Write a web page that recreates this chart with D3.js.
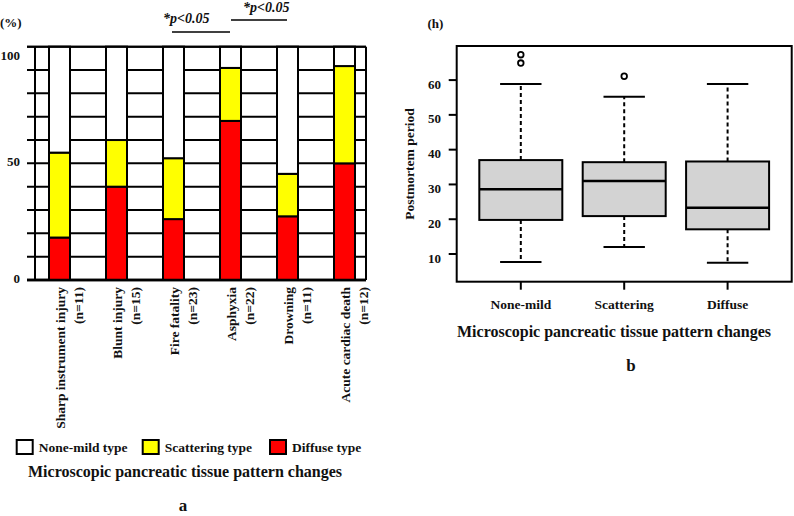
<!DOCTYPE html>
<html><head><meta charset="utf-8">
<script src="https://cdn.jsdelivr.net/npm/d3@7"></script>
<style>
html,body{margin:0;padding:0;background:#fff;}
text{font-family:"Liberation Serif","Times New Roman",serif;font-weight:bold;fill:#111;}
</style></head>
<body>
<svg id="chart" width="794" height="516"></svg>
<script>
// ---------- Panel a data ----------
const categories = ["Sharp instrument injury", "Blunt injury", "Fire fatality", "Asphyxia", "Drowning", "Acute cardiac death"];
const nLabels = ["(n=11)", "(n=15)", "(n=23)", "(n=22)", "(n=11)", "(n=12)"];
const diffuseType = [18.2, 40.0, 26.1, 68.2, 27.3, 50.0];
const scatteringType = [36.4, 20.0, 26.1, 22.7, 18.2, 41.7];
const noneMildType = [45.4, 40.0, 47.8, 9.1, 54.5, 8.3];
const seriesNames = ["None-mild type", "Scattering type", "Diffuse type"];
const seriesColors = ["#ffffff", "#ffff00", "#ff0000"];
const pctTicks = [0, 10, 20, 30, 40, 50, 60, 70, 80, 90, 100];
const pctTickLabels = [0, 50, 100];

// ---------- Panel b data ----------
const groups = ["None-mild", "Scattering", "Diffuse"];
const whiskerLow = [7.7, 12.0, 7.5];
const q1 = [19.8, 20.9, 17.1];
const median = [28.6, 31.0, 23.3];
const q3 = [37.0, 36.4, 36.6];
const whiskerHigh = [58.9, 55.2, 58.9];
const outliers = [[64.9, 67.3], [61.1], []];
const hourTicks = [10, 20, 30, 40, 50, 60];

const svg = d3.select("#chart");

// ================= Panel a =================
const ga = svg.append("g");
const xA = d3.scalePoint().domain(categories).range([31, 373]).padding(0.5);
const yA = d3.scaleLinear().domain([0, 100]).range([280, 46.7]);
const frameL = 35, frameR = 366, barW = 21;

// gridlines (extend left as ticks)
ga.selectAll("line.grid").data(pctTicks).join("line")
  .attr("x1", 27).attr("x2", frameR)
  .attr("y1", d => yA(d)).attr("y2", d => yA(d))
  .attr("stroke", "#000").attr("stroke-width", d => d === 0 ? 2.5 : 2);
// frame verticals
[frameL, frameR].forEach(x => ga.append("line")
  .attr("x1", x).attr("x2", x).attr("y1", yA(100)).attr("y2", yA(0))
  .attr("stroke", "#000").attr("stroke-width", 2));

// stacked bars
const stackData = categories.map((c, i) => ({cat: c, diffuse: diffuseType[i], scattering: scatteringType[i], none: noneMildType[i]}));
const stack = d3.stack().keys(["diffuse", "scattering", "none"]);
const layers = stack(stackData);
const layerColor = {diffuse: seriesColors[2], scattering: seriesColors[1], none: seriesColors[0]};
layers.forEach(layer => {
  ga.selectAll(null).data(layer).join("rect")
    .attr("x", d => xA(d.data.cat) - barW / 2)
    .attr("width", barW)
    .attr("y", d => yA(Math.min(100, d[1])))
    .attr("height", d => yA(d[0]) - yA(Math.min(100, d[1])))
    .attr("fill", layerColor[layer.key])
    .attr("stroke", "#000").attr("stroke-width", 2);
});
// redraw top frame line and axis
ga.append("line").attr("x1", 27).attr("x2", frameR).attr("y1", yA(100)).attr("y2", yA(100)).attr("stroke", "#000").attr("stroke-width", 2);
ga.append("line").attr("x1", 27).attr("x2", frameR).attr("y1", yA(0)).attr("y2", yA(0)).attr("stroke", "#000").attr("stroke-width", 2.5);

// y tick labels
ga.selectAll("text.ytl").data(pctTickLabels).join("text")
  .attr("x", 20).attr("y", d => yA(d) + (d === 100 ? 13 : 3))
  .attr("text-anchor", "end").attr("font-size", 13).text(d => d);
ga.append("text").attr("x", 0).attr("y", 27).attr("font-size", 13).text("(%)");

// category labels
categories.forEach((c, i) => {
  const cx = xA(c);
  ga.append("text").attr("transform", `translate(${cx + 5},287) rotate(-90)`)
    .attr("text-anchor", "end").attr("font-size", 13.5).text(c);
  ga.append("text").attr("transform", `translate(${cx + 23},287) rotate(-90)`)
    .attr("text-anchor", "end").attr("font-size", 13.5).text(nLabels[i]);
});

// significance annotations
ga.append("text").attr("x", 163).attr("y", 23).attr("font-size", 14).attr("font-style", "italic").text("*p<0.05");
ga.append("line").attr("x1", 172).attr("x2", 230).attr("y1", 32).attr("y2", 32).attr("stroke", "#000").attr("stroke-width", 1.5);
ga.append("text").attr("x", 243).attr("y", 12).attr("font-size", 14).attr("font-style", "italic").text("*p<0.05");
ga.append("line").attr("x1", 231).attr("x2", 287).attr("y1", 20).attr("y2", 20).attr("stroke", "#000").attr("stroke-width", 1.5);

// legend
const legX = [16.7, 142.7, 270];
[0, 1, 2].forEach((k, i) => {
  ga.append("rect").attr("x", legX[i]).attr("y", 440).attr("width", 16).attr("height", 14)
    .attr("fill", seriesColors[k]).attr("stroke", "#000").attr("stroke-width", 2);
  ga.append("text").attr("x", legX[i] + 22).attr("y", 451.5).attr("font-size", 13.5).text(seriesNames[k]);
});
ga.append("text").attr("x", 185).attr("y", 477).attr("text-anchor", "middle").attr("font-size", 16)
  .text("Microscopic pancreatic tissue pattern changes");
ga.append("text").attr("x", 183).attr("y", 511).attr("text-anchor", "middle").attr("font-size", 17).text("a");

// ================= Panel b =================
const gb = svg.append("g");
const bL = 456.7, bR = 791.7, bT = 46, bB = 281.7;
const xB = d3.scaleLinear().domain([0.38, 3.62]).range([bL, bR]);
const yB = d3.scaleLinear().domain([2.04, 69.8]).range([bB, bT]);
const boxHalf = 41.5, capHalf = 20.7;

gb.append("rect").attr("x", bL).attr("y", bT).attr("width", bR - bL).attr("height", bB - bT)
  .attr("fill", "none").attr("stroke", "#000").attr("stroke-width", 2);

groups.forEach((g, i) => {
  const cx = xB(i + 1);
  gb.append("line").attr("x1", cx).attr("x2", cx).attr("y1", yB(q3[i])).attr("y2", yB(whiskerHigh[i]))
    .attr("stroke", "#000").attr("stroke-width", 2).attr("stroke-dasharray", "4,3");
  gb.append("line").attr("x1", cx).attr("x2", cx).attr("y1", yB(q1[i])).attr("y2", yB(whiskerLow[i]))
    .attr("stroke", "#000").attr("stroke-width", 2).attr("stroke-dasharray", "4,3");
  gb.append("line").attr("x1", cx - capHalf).attr("x2", cx + capHalf).attr("y1", yB(whiskerHigh[i])).attr("y2", yB(whiskerHigh[i]))
    .attr("stroke", "#000").attr("stroke-width", 2);
  gb.append("line").attr("x1", cx - capHalf).attr("x2", cx + capHalf).attr("y1", yB(whiskerLow[i])).attr("y2", yB(whiskerLow[i]))
    .attr("stroke", "#000").attr("stroke-width", 2);
  gb.append("rect").attr("x", cx - boxHalf).attr("width", boxHalf * 2)
    .attr("y", yB(q3[i])).attr("height", yB(q1[i]) - yB(q3[i]))
    .attr("fill", "#d3d3d3").attr("stroke", "#000").attr("stroke-width", 2);
  gb.append("line").attr("x1", cx - boxHalf).attr("x2", cx + boxHalf).attr("y1", yB(median[i])).attr("y2", yB(median[i]))
    .attr("stroke", "#000").attr("stroke-width", 2.5);
  gb.selectAll(null).data(outliers[i]).join("circle")
    .attr("cx", cx).attr("cy", d => yB(d)).attr("r", 2.8)
    .attr("fill", "none").attr("stroke", "#000").attr("stroke-width", 1.8);
  gb.append("line").attr("x1", cx).attr("x2", cx).attr("y1", bB).attr("y2", bB + 8).attr("stroke", "#000").attr("stroke-width", 2);
  gb.append("text").attr("x", cx).attr("y", 308.5).attr("text-anchor", "middle").attr("font-size", 13.5).text(g);
});

// y axis
gb.selectAll("line.yt").data(hourTicks).join("line")
  .attr("x1", bL - 8).attr("x2", bL).attr("y1", d => yB(d)).attr("y2", d => yB(d))
  .attr("stroke", "#000").attr("stroke-width", 2);
gb.selectAll("text.yt").data(hourTicks).join("text")
  .attr("x", 441).attr("y", d => yB(d) + 8.5).attr("text-anchor", "end").attr("font-size", 13).text(d => d);
gb.append("text").attr("transform", "translate(414,164) rotate(-90)").attr("text-anchor", "middle")
  .attr("font-size", 13.5).text("Postmortem period");
gb.append("text").attr("x", 427.5).attr("y", 28).attr("font-size", 13).text("(h)");
gb.append("text").attr("x", 614).attr("y", 336.5).attr("text-anchor", "middle").attr("font-size", 16)
  .text("Microscopic pancreatic tissue pattern changes");
gb.append("text").attr("x", 631).attr("y", 370.5).attr("text-anchor", "middle").attr("font-size", 17).text("b");
</script>
</body></html>
